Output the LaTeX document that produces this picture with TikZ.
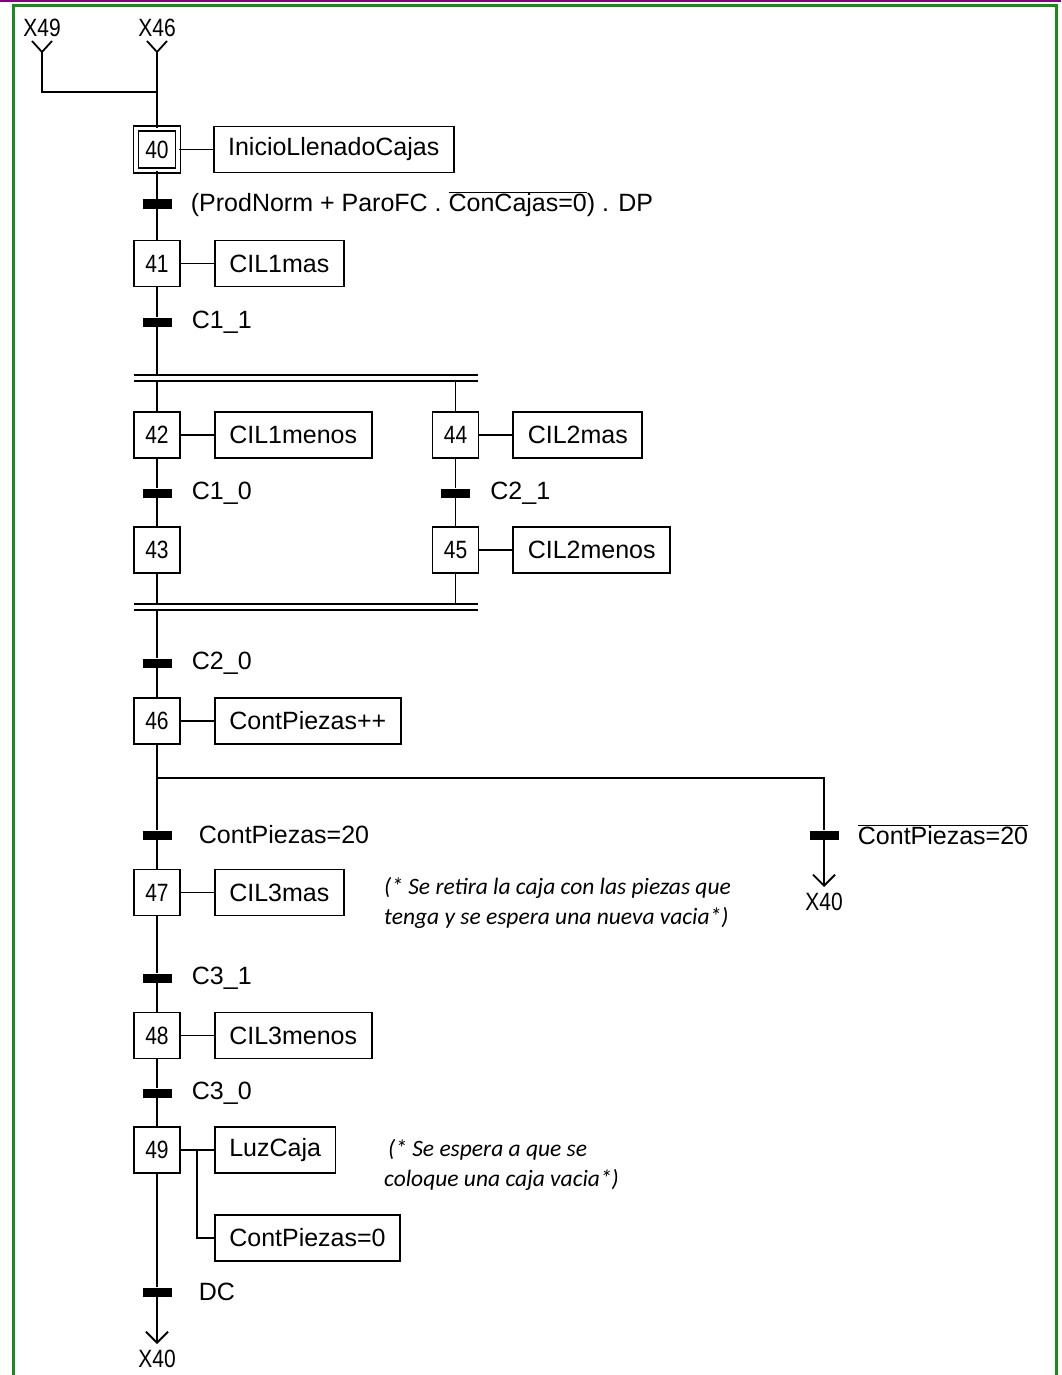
\documentclass[tikz,border=0pt]{standalone}
\usepackage{fontspec}
\setmainfont{Liberation Sans}
\newfontfamily\narrowfont[FakeStretch=0.84]{Liberation Sans}
\newfontfamily\notefont{Carlito}
\usetikzlibrary{arrows.meta, positioning}
\definecolor{frameGreen}{HTML}{1A8A1A}
\definecolor{framePurple}{HTML}{800080}

\begin{document}
\begin{tikzpicture}[
    x=1pt, y=-1pt,
    font=\fontsize{25}{28}\selectfont,
    etapa/.style={draw, line width=1.8pt, minimum width=46pt, minimum height=46pt, inner sep=0pt, font=\narrowfont\fontsize{25}{28}\selectfont},
    etapaini/.style={etapa, double, double distance=3.5pt, line width=1.4pt, minimum width=42pt, minimum height=42pt},
    accion/.style={draw, line width=1.8pt, minimum height=46pt, inner xsep=14.5pt},
    barra/.style={fill=black, minimum width=29pt, minimum height=9pt, inner sep=0pt},
    cond/.style={anchor=west, inner sep=0pt},
    enlace/.style={line width=1.8pt},
    flecha/.style={enlace, -{Straight Barb[length=11pt, width=22pt]}},
    xref/.style={font=\narrowfont\fontsize{25}{28}\selectfont, inner sep=0pt},
    nota/.style={anchor=west, align=left, inner sep=0pt, font=\notefont\itshape\fontsize{23.5}{30}\selectfont},
]
    \useasboundingbox (0,0) rectangle (1061,1375);
    % page frame
    \draw[framePurple, line width=2pt] (0,1) -- (1061,1);
    \draw[frameGreen, line width=2.5pt] (13.5,1380) -- (13.5,5.5) -- (1056.5,5.5) -- (1056.5,1380);

    % incoming links
    \node[xref] (x49) at (42,28) {X49};
    \node[xref] (x46) at (157,28) {X46};
    \coordinate (v49) at (42,52);
    \coordinate (v46) at (157,52);
    \coordinate (j40) at (157,92);

    \node[etapaini] (s40) at (157,149.5) {40};
    \node[accion, right=34pt of s40] (a40) {InicioLlenadoCajas};
    \node[barra] (t40) at (157,204) {};
    \node[cond, right=19pt of t40] {(ProdNorm + ParoFC . $\overline{\mbox{ConCajas=0}}$) . DP};

    \node[etapa] (s41) at (157,263.5) {41};
    \node[accion, right=33pt of s41] (a41) {CIL1mas};
    \node[barra] (t41) at (157,322) {};
    \node[cond, right=20pt of t41] {C1\_1};

    % parallel branches
    \coordinate (pa) at (157,375);
    \coordinate (pb) at (157,381);
    \coordinate (pb2) at (455.5,381);
    \node[etapa] (s42) at (157,435) {42};
    \node[accion, right=33pt of s42] (a42) {CIL1menos};
    \node[etapa] (s44) at (455.5,435) {44};
    \node[accion, right=33pt of s44] (a44) {CIL2mas};
    \node[barra] (t42) at (157,493) {};
    \node[cond, right=20pt of t42] {C1\_0};
    \node[barra] (t44) at (455.5,493) {};
    \node[cond, right=20pt of t44] {C2\_1};
    \node[etapa] (s43) at (157,550) {43};
    \node[etapa] (s45) at (455.5,550) {45};
    \node[accion, right=33pt of s45] (a45) {CIL2menos};
    \coordinate (pc) at (157,604);
    \coordinate (pc2) at (455.5,604);
    \coordinate (pd) at (157,610);

    \node[barra] (t46) at (157,663) {};
    \node[cond, right=20pt of t46] {C2\_0};
    \node[etapa] (s46) at (157,721) {46};
    \node[accion, right=33pt of s46] (a46) {ContPiezas++};

    % choice
    \coordinate (o46) at (157,778);
    \coordinate (o46b) at (824,778);
    \node[barra] (t47) at (157,835) {};
    \node[cond, right=27pt of t47] {ContPiezas=20};
    \node[barra] (t47b) at (824,835) {};
    \node[cond, right=19pt of t47b] {$\overline{\mbox{ContPiezas=20}}$};
    \coordinate (r47) at (824,887);
    \node[xref, below=6pt of r47] (x40a) {X40};

    \node[etapa] (s47) at (157,892.5) {47};
    \node[accion, right=33pt of s47] (a47) {CIL3mas};
    \node[nota] (n47) at (384,903) {(* Se retira la caja con las piezas que\\tenga y se espera una nueva vacia*)};
    \node[barra] (t48) at (157,978) {};
    \node[cond, right=20pt of t48] {C3\_1};
    \node[etapa] (s48) at (157,1035.5) {48};
    \node[accion, right=33pt of s48] (a48) {CIL3menos};
    \node[barra] (t49) at (157,1093) {};
    \node[cond, right=20pt of t49] {C3\_0};
    \node[etapa] (s49) at (157,1150) {49};
    \node[accion, right=33pt of s49] (a49) {LuzCaja};
    \node[accion, below=40pt of a49.south west, anchor=north west] (a49b) {ContPiezas=0};
    \node[nota] (n49) at (384,1165) {\hspace*{4pt}(* Se espera a que se\\coloque una caja vacia*)};
    \coordinate (j49) at (197,1150);
    \node[barra] (t50) at (157,1292) {};
    \node[cond, right=27pt of t50] {DC};
    \coordinate (r50) at (157,1344);
    \node[xref, below=6pt of r50] (x40b) {X40};

    % links
    \draw[enlace] (v49) ++(-10,-11) -- (v49) -- ++(10,-11);
    \draw[enlace] (v46) ++(-10,-11) -- (v46) -- ++(10,-11);
    \draw[enlace] (v49) |- (j40);
    \draw[enlace] (v46) -- (s40) -- (t40) -- (s41) -- (t41) -- (pa);
    \draw[enlace] (134,375) -- (478,375);
    \draw[enlace] (134,381) -- (478,381);
    \draw[enlace] (pb) -- (s42) -- (t42) -- (s43) -- (pc);
    \draw[enlace] (pb2) -- (s44) -- (t44) -- (s45) -- (pc2);
    \draw[enlace] (134,604) -- (478,604);
    \draw[enlace] (134,610) -- (478,610);
    \draw[enlace] (pd) -- (t46) -- (s46) -- (o46) -- (t47) -- (s47) -- (t48) -- (s48) -- (t49) -- (s49) -- (t50);
    \draw[enlace] (o46) -- (o46b) -- (t47b);
    \draw[flecha] (t47b) -- (r47);
    \draw[flecha] (t50) -- (r50);

    % actions
    \foreach \n in {40,41,42,44,45,46,47,48,49}
        \draw[enlace] (s\n) -- (a\n);
    \draw[enlace] (j49) |- (a49b.west);
\end{tikzpicture}
\end{document}
